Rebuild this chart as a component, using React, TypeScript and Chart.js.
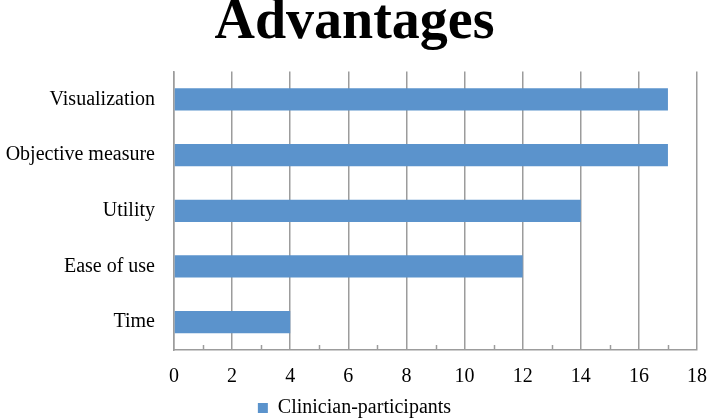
import React, { useEffect, useRef } from "react";
import { Chart, registerables } from "chart.js";

Chart.register(...registerables);

const categories = ["Visualization", "Objective measure", "Utility", "Ease of use", "Time"];
const values = [17, 17, 14, 12, 4];
const seriesName = "Clinician-participants";
const chartTitle = "Advantages";
const xMin = 0;
const xMax = 18;
const xStep = 2;
const minorTickValues = [1, 3, 5, 7, 9, 11, 13, 15, 17];

const GRID = "#9c9c9c";
const BAR = "#5b93cc";
const FONT = "'Liberation Serif', 'Times New Roman', serif";

const minorTicks = {
  id: "minorTicks",
  afterDraw(chart: any) {
    const x = chart.scales.x;
    const ctx = chart.ctx;
    const bottom = chart.chartArea.bottom;
    ctx.save();
    ctx.strokeStyle = GRID;
    ctx.lineWidth = 1.5;
    minorTickValues.forEach((v) => {
      const px = Math.round(x.getPixelForValue(v)) + 0.5;
      ctx.beginPath();
      ctx.moveTo(px, bottom);
      ctx.lineTo(px, bottom - 5);
      ctx.stroke();
    });
    ctx.restore();
  },
};

export default function App() {
  const ref = useRef<HTMLCanvasElement>(null);
  useEffect(() => {
    document.body.style.margin = "0";
    const chart = new Chart(ref.current!, {
      type: "bar",
      data: {
        labels: categories,
        datasets: [
          {
            label: seriesName,
            data: values,
            backgroundColor: BAR,
            borderWidth: 0,
            barPercentage: 0.4,
            categoryPercentage: 1.0,
          },
        ],
      },
      options: {
        indexAxis: "y",
        responsive: false,
        animation: false,
        layout: { padding: { left: 0, right: 0, top: 0, bottom: -8 } },
        plugins: {
          title: {
            display: true,
            text: chartTitle,
            color: "#000",
            font: { family: FONT, size: 56, weight: "bold", lineHeight: 0.85 },
            padding: { top: 0, bottom: 24 },
          },
          legend: {
            display: true,
            position: "bottom",
            labels: {
              color: "#000",
              font: { family: FONT, size: 20 },
              boxWidth: 10,
              boxHeight: 10,
              padding: 10,
            },
          },
          tooltip: { enabled: false },
        },
        scales: {
          x: {
            type: "linear",
            min: xMin,
            max: xMax,
            ticks: {
              stepSize: xStep,
              color: "#000",
              font: { family: FONT, size: 20 },
              padding: 15,
            },
            grid: { color: GRID, lineWidth: 1.5, drawTicks: false },
            border: { color: GRID, width: 1.5 },
            afterFit: (s: any) => {
              s.height = 38;
              s.paddingRight = 12;
              s.paddingLeft = 0;
            },
          },
          y: {
            ticks: {
              color: "#000",
              font: { family: FONT, size: 20 },
              padding: 19,
            },
            grid: { display: false, drawTicks: false },
            border: { display: true, color: GRID, width: 1.5 },
            afterFit: (s: any) => {
              s.width = 174;
            },
          },
        },
      },
      plugins: [minorTicks],
    });
    return () => chart.destroy();
  }, []);
  return (
    <div style={{ width: 709, height: 420, background: "#fff" }}>
      <canvas ref={ref} width={709} height={420} style={{ display: "block" }} />
    </div>
  );
}
